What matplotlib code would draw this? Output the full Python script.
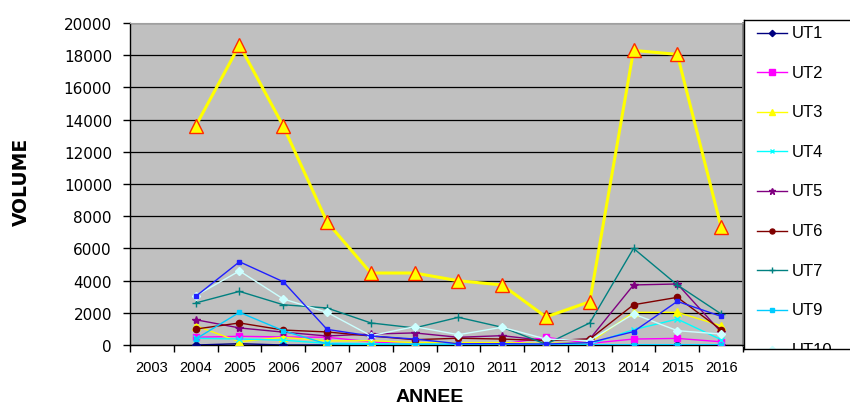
import numpy as np
import matplotlib
matplotlib.use('Agg')
import matplotlib.pyplot as plt

# Volumes per year and per unit (2003 has no value)
YEARS = ['2003', '2004', '2005', '2006', '2007', '2008', '2009',
         '2010', '2011', '2012', '2013', '2014', '2015', '2016']
nan = np.nan

UT1 = [nan, 0, 80, 0, 0, 0, 0, 0, 0, 0, 0, 0, 0, 0]
UT2 = [nan, 480, 540, 500, 480, 200, 50, 50, 50, 480, 100, 370, 410, 200]
UT3 = [nan, 1200, 200, 480, 250, 270, 150, 150, 150, 100, 150, 2030, 2030, 1200]
UT4 = [nan, 420, 370, 300, 100, 80, 60, 60, 60, 50, 50, 950, 1610, 330]
UT5 = [nan, 1570, 1060, 800, 560, 680, 750, 480, 580, 270, 370, 3730, 3790, 800]
UT6 = [nan, 990, 1370, 930, 810, 560, 330, 420, 370, 270, 370, 2500, 2960, 950]
UT7 = [nan, 2610, 3330, 2500, 2300, 1370, 1060, 1720, 1100, 50, 1370, 6000, 3730, 1930]
UT9 = [nan, 370, 2030, 890, 60, 30, 30, 30, 30, 20, 20, 20, 20, 20]
UT10 = [nan, 3060, 4600, 2860, 2030, 580, 1140, 640, 1100, 370, 270, 1930, 890, 680]
UT11 = [nan, 3020, 5170, 3930, 970, 560, 370, 80, 80, 60, 150, 830, 2710, 1780]
TOTAL = [nan, 13600, 18630, 13600, 7640, 4470, 4470, 3990, 3730, 1740, 2690, 18300, 18050, 7330]

# (label, values, colour, marker, marker size)
SERIES = [
    ('UT1', UT1, '#000080', 'D', 4),
    ('UT2', UT2, '#FF00FF', 's', 5),
    ('UT3', UT3, '#FFFF00', '^', 6),
    ('UT4', UT4, '#00FFFF', 'x', 4),
    ('UT5', UT5, '#800080', '*', 6),
    ('UT6', UT6, '#800000', 'o', 4.5),
    ('UT7', UT7, '#008080', '+', 6),
    ('UT9', UT9, '#00CCFF', 's', 3),
    ('UT10', UT10, '#CCFFFF', 'D', 4),
    ('UT11', UT11, '#2020FF', 's', 3),
]

W, H = 850, 410
fig = plt.figure(figsize=(W / 100, H / 100), dpi=100)
fig.patch.set_facecolor('white')

# plot area in pixel coords
L, R, T, B = 130, 743, 24, 346
ax = fig.add_axes([L / W, 1 - B / H, (R - L) / W, (B - T) / H])
ax.set_facecolor('#C0C0C0')

x = np.arange(len(YEARS))
for label, vals, col, mk, ms in SERIES:
    ax.plot(x, vals, color=col, lw=1.0, marker=mk, ms=ms, mfc=col, mec=col,
            mew=1.0, zorder=3)

ax.plot(x, TOTAL, color='#FFFF00', lw=2.2, marker='^', ms=10,
        mfc='#FFFF00', mec='#FF2A00', mew=1.0, zorder=4)

ax.set_xlim(-0.5, len(YEARS) - 0.5)
ax.set_ylim(0, 20000)
ax.set_yticks(np.arange(0, 20001, 2000))
ax.yaxis.grid(True, color='black', lw=0.9)
ax.set_axisbelow(True)

ax.set_xticks(x)
ax.set_xticklabels(YEARS, family='Liberation Sans', fontsize=10.5)
ax.set_xticks(np.arange(-0.5, len(YEARS)), minor=True)
ax.tick_params(axis='x', which='major', length=0, pad=11)
ax.tick_params(axis='x', which='minor', length=5, width=1, direction='out')
ax.tick_params(axis='y', length=5, width=1, direction='out', pad=8)
for t in ax.get_yticklabels():
    t.set_family('DejaVu Sans')
    t.set_fontsize(11)

for side in ['left', 'bottom']:
    ax.spines[side].set_color('black')
    ax.spines[side].set_linewidth(1)
ax.spines['top'].set_color('#A0A0A0')
ax.spines['right'].set_color('#808080')
ax.spines['right'].set_linewidth(2)

fig.text(21 / W, 1 - 182 / H, 'VOLUME', rotation=90, ha='center', va='center',
         family='DejaVu Sans', fontweight='bold', fontsize=13.5)
fig.text(430 / W, 1 - 398 / H, 'ANNEE', ha='center', va='center',
         family='Liberation Sans', fontweight='bold', fontsize=14)

# legend box, cut off at the bottom and right like the original
LX0, LY0, LY1 = 744, 21, 350
lax = fig.add_axes([LX0 / W, 1 - LY1 / H, 0.2, (LY1 - LY0) / H])
lax.set_xlim(LX0, LX0 + 0.2 * W)
lax.set_ylim(LY1, LY0)
lax.set_xticks([])
lax.set_yticks([])
lax.set_facecolor('white')
for s in lax.spines.values():
    s.set_color('black')
    s.set_linewidth(1)
lax.spines['right'].set_visible(False)

for i, (label, vals, col, mk, ms) in enumerate(SERIES):
    yy = 33.5 + i * 39.6
    lax.plot([757, 787], [yy, yy], color=col, lw=1.0, clip_on=True)
    lax.plot([772], [yy], color=col, marker=mk, ms=ms * 0.8, mfc=col, mec=col,
             clip_on=True)
    lax.text(792, yy, label, ha='left', va='center', family='Liberation Sans',
             fontsize=12, clip_on=True)

fig.savefig('out.png', dpi=100)
